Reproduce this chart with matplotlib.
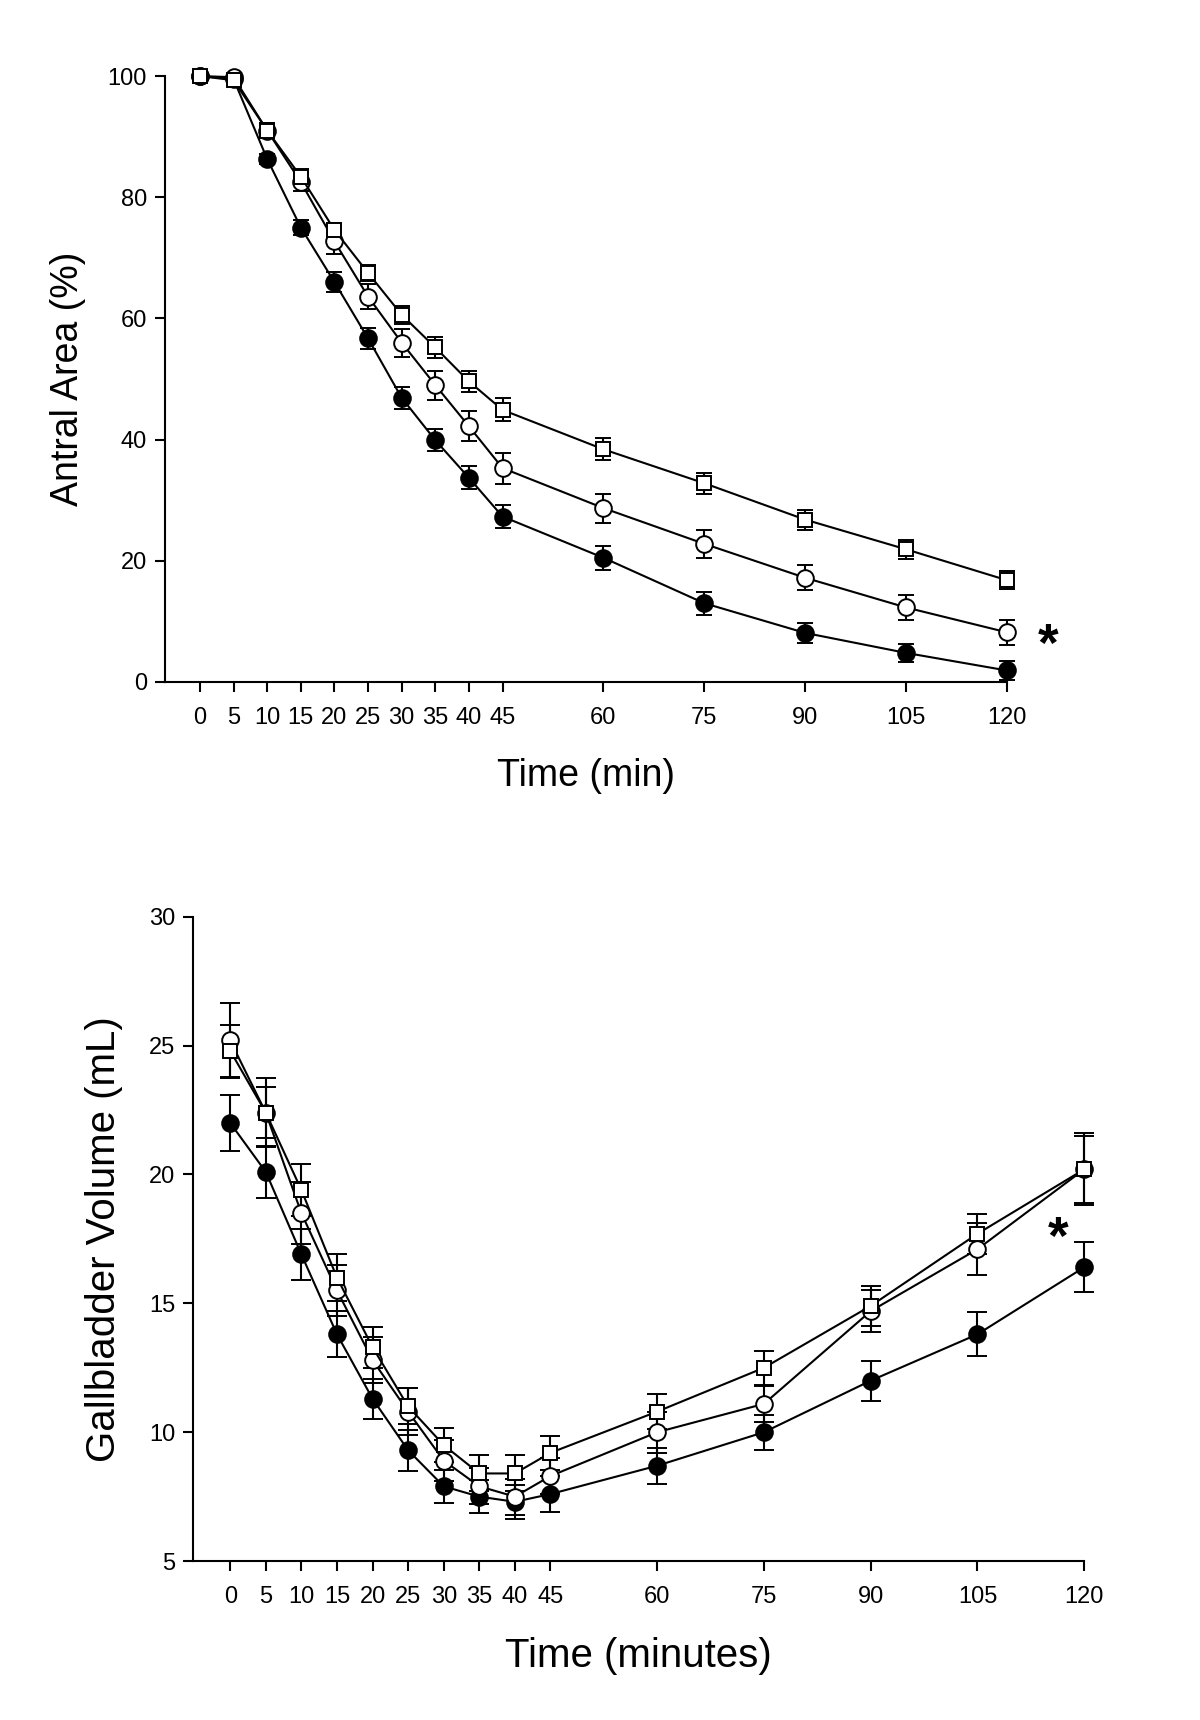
import numpy as np
import matplotlib.pyplot as plt
import matplotlib as mpl

plt.rcParams['font.family'] = ['Liberation Sans', 'DejaVu Sans']

# dados
time = [0, 5, 10, 15, 20, 25, 30, 35, 40, 45, 60, 75, 90, 105, 120]
time_ticks = [0, 5, 10, 15, 20, 25, 30, 35, 40, 45, 60, 75, 90, 105, 120]

# antral area (%)
antral_filled = [100, 99.5, 86.3, 75.0, 66.0, 56.7, 46.9, 39.9, 33.7, 27.3, 20.5, 13.0, 8.1, 4.8, 1.9]
antral_filled_err = [0.4, 0.5, 0.9, 1.25, 1.6, 1.7, 1.8, 1.8, 1.9, 1.9, 2.0, 1.9, 1.65, 1.5, 1.6]
antral_open = [100, 99.8, 91.0, 82.5, 72.7, 63.6, 56.0, 49.0, 42.2, 35.3, 28.7, 22.8, 17.2, 12.3, 8.2]
antral_open_err = [0.4, 0.5, 1.2, 1.5, 2.0, 2.1, 2.3, 2.4, 2.5, 2.55, 2.4, 2.35, 2.1, 2.1, 2.05]
antral_square = [100, 99.3, 91.0, 83.4, 74.6, 67.5, 60.6, 55.2, 49.6, 44.9, 38.4, 32.8, 26.8, 21.9, 16.8]
antral_square_err = [0.3, 0.5, 1.3, 1.3, 1.2, 1.3, 1.5, 1.8, 1.8, 1.9, 1.8, 1.7, 1.65, 1.55, 1.5]

# gallbladder volume (mL)
gb_filled = [22.0, 20.1, 16.9, 13.8, 11.3, 9.3, 7.9, 7.5, 7.3, 7.6, 8.7, 10.0, 12.0, 13.8, 16.4]
gb_filled_err = [1.1, 1.0, 1.0, 0.9, 0.78, 0.8, 0.65, 0.65, 0.65, 0.7, 0.7, 0.68, 0.78, 0.85, 0.97]
gb_open = [25.2, 22.4, 18.5, 15.5, 12.8, 10.8, 8.9, 7.9, 7.5, 8.3, 10.0, 11.1, 14.7, 17.1, 20.2]
gb_open_err = [1.45, 1.35, 1.2, 1.0, 0.9, 0.9, 0.8, 0.7, 0.7, 0.7, 0.8, 0.7, 0.8, 1.0, 1.3]
gb_square = [24.8, 22.4, 19.4, 16.0, 13.3, 11.0, 9.5, 8.4, 8.4, 9.2, 10.8, 12.5, 14.9, 17.7, 20.2]
gb_square_err = [1.0, 1.0, 1.0, 0.9, 0.8, 0.7, 0.66, 0.7, 0.7, 0.65, 0.67, 0.67, 0.78, 0.78, 1.4]

fig = plt.figure(figsize=(12, 17.2), dpi=100)


def plot_panel(ax, series, msize, cap):
    for y, err, marker, face, ms in series:
        ax.errorbar(time, y, yerr=err, color='black', marker=marker, mfc=face, mec='black',
                    ms=ms * msize, mew=1.4, lw=1.5, elinewidth=1.5, capsize=cap, capthick=1.5,
                    clip_on=False)
    for child in ax.get_children():
        if isinstance(child, (mpl.lines.Line2D, mpl.collections.LineCollection)):
            child.set_clip_on(False)
    ax.spines['top'].set_visible(False)
    ax.spines['right'].set_visible(False)
    ax.spines['left'].set_linewidth(1.5)
    ax.spines['bottom'].set_linewidth(1.5)
    ax.set_xticks(time_ticks)
    ax.set_xlim(-5.2, 120)
    ax.tick_params(direction='out', length=7, width=1.5, labelsize=17)
    ax.tick_params(axis='x', pad=11)
    ax.tick_params(axis='y', pad=6)


# grafico 1 - antral area
ax1 = fig.add_axes([0.1375, 0.6035, 0.7015, 0.3523])
plot_panel(ax1, [(antral_filled, antral_filled_err, 'o', 'black', 1.0),
                 (antral_open, antral_open_err, 'o', 'white', 1.0),
                 (antral_square, antral_square_err, 's', 'white', 0.85)], 12, 6)
ax1.set_ylim(0, 100)
ax1.set_yticks([0, 20, 40, 60, 80, 100])
ax1.set_ylabel('Antral Area (%)', fontsize=27)
ax1.set_xlabel('Time (min)', fontsize=27)
ax1.yaxis.set_label_coords(-0.115, 0.5)
ax1.yaxis.label.set_va('center')
ax1.xaxis.set_label_coords(0.5, -0.155)
ax1.xaxis.label.set_va('center')
ax1.text(126.1, 5.7, '*', fontsize=38, fontweight='bold', ha='center', va='center', clip_on=False)

# grafico 2 - gallbladder volume
ax2 = fig.add_axes([0.161, 0.0924, 0.7425, 0.3746])
plot_panel(ax2, [(gb_filled, gb_filled_err, 'o', 'black', 1.0),
                 (gb_open, gb_open_err, 'o', 'white', 1.0),
                 (gb_square, gb_square_err, 's', 'white', 0.85)], 12, 7)
ax2.set_ylim(5, 30)
ax2.set_yticks([5, 10, 15, 20, 25, 30])
ax2.set_ylabel('Gallbladder Volume (mL)', fontsize=29)
ax2.set_xlabel('Time (minutes)', fontsize=29)
ax2.yaxis.set_label_coords(-0.1, 0.5)
ax2.yaxis.label.set_va('center')
ax2.xaxis.set_label_coords(0.5, -0.147)
ax2.xaxis.label.set_va('center')
ax2.text(116.4, 17.45, '*', fontsize=38, fontweight='bold', ha='center', va='center')

plt.savefig('out.png', dpi=100)
